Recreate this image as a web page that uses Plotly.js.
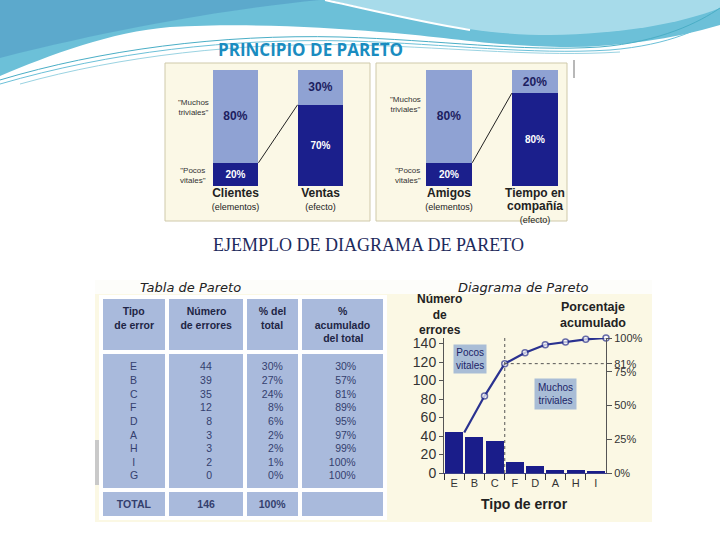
<!DOCTYPE html>
<html>
<head>
<meta charset="utf-8">
<script src="https://cdn.plot.ly/plotly-3.0.1.min.js"></script>
<style>html,body{margin:0;padding:0;background:#fff;}#chart{width:720px;height:540px;}</style>
</head>
<body>
<div id="chart"></div>
<script>
// ---------- DATA ----------
// Principio de Pareto (top)
const panel1Cats = ['Clientes', 'Ventas'];
const panel1Names = [['Clientes'], ['Ventas']];
const panel1Roles = ['(elementos)', '(efecto)'];
const panel1Vital = [20, 70];
const panel1Trivial = [80, 30];

const panel2Cats = ['Amigos', 'Tiempo en compañía'];
const panel2Names = [['Amigos'], ['Tiempo en', 'compañía']];
const panel2Roles = ['(elementos)', '(efecto)'];
const panel2Vital = [20, 80];
const panel2Trivial = [80, 20];

// Tabla de Pareto
const errorTypes = ['E', 'B', 'C', 'F', 'D', 'A', 'H', 'I', 'G'];
const errorCounts = [44, 39, 35, 12, 8, 3, 3, 2, 0];
const pctOfTotal = [30, 27, 24, 8, 6, 2, 2, 1, 0];
const pctCumulative = [30, 57, 81, 89, 95, 97, 99, 100, 100];
const totalErrors = 146;
const totalPct = 100;
const tableHeaders = [['Tipo', 'de error'], ['Número', 'de errores'], ['% del', 'total'], ['%', 'acumulado', 'del total']];

// Diagrama de Pareto (chart uses first 8 types)
const chartTypes = errorTypes.slice(0, 8);
const chartCounts = errorCounts.slice(0, 8);
const chartCum = pctCumulative.slice(0, 8);
const pctTicks = [0, 25, 50, 75, 81, 100];
const countTicks = [0, 20, 40, 60, 80, 100, 120, 140];
const vitalCutoff = 81;

// ---------- HELPERS ----------
const W = 720, H = 540;
const X = p => p / W;
const Y = p => 1 - p / H;
const P = s => s.replace(/(-?[\d.]+),(-?[\d.]+)/g, (m, a, b) => (a / W).toFixed(4) + ',' + (1 - b / H).toFixed(4));

const LIGHT = '#8fa2d3';
const DARK = '#1b1f8c';
const NAVY = '#1a1d8a';
const CELL = '#a9badc';
const FONT = 'Liberation Sans, Arial, sans-serif';

// per-line alignment inside a multi-line table cell (table aligns the block, not the lines)
const ctx = document.createElement('canvas').getContext('2d');
function measure(t, f) { ctx.font = f; return ctx.measureText(t).width; }
function alignLines(lines, f, mode) {
  let pc = '\u2009', pw = measure(pc, f);
  if (!(pw > 0.5)) { pc = '\u2002'; pw = measure(pc, f); }
  const ws = lines.map(l => measure(String(l), f));
  const mx = Math.max.apply(null, ws);
  return lines.map((l, i) => {
    const n = Math.max(0, Math.round((mx - ws[i]) / (mode === 'center' ? 2 : 1) / pw));
    return pc.repeat(n) + l;
  }).join('<br>');
}
const HF = 'bold 10.5px "Liberation Sans"';
const BF = '10.5px "Liberation Sans"';

// ---------- TRACES ----------
const traces = [];
function stackPair(cats, vital, trivial, xa, ya) {
  traces.push({type: 'bar', x: cats, y: vital, xaxis: xa, yaxis: ya, width: 0.54,
    marker: {color: DARK, line: {width: 0}}, text: vital.map(v => v + '%'), textposition: 'inside',
    insidetextanchor: 'middle', textfont: {color: '#ffffff', size: 10, family: FONT, weight: 'bold'}, hoverinfo: 'skip'});
  traces.push({type: 'bar', x: cats, y: trivial, xaxis: xa, yaxis: ya, width: 0.54,
    marker: {color: LIGHT, line: {width: 0}}, text: trivial.map(v => v + '%'), textposition: 'inside',
    insidetextanchor: 'middle', textfont: {color: '#1c2060', size: 12, family: FONT, weight: 'bold'}, hoverinfo: 'skip'});
}
stackPair(panel1Cats, panel1Vital, panel1Trivial, 'x', 'y');
stackPair(panel2Cats, panel2Vital, panel2Trivial, 'x2', 'y2');

// Pareto table
traces.push({type: 'table',
  domain: {x: [X(101), X(385)], y: [Y(522), Y(297)]},
  columnwidth: [64, 75, 53, 82],
  header: {values: tableHeaders.map(h => '<b>' + alignLines(h, HF, 'center') + '</b>'), height: 44,
    fill: {color: CELL}, line: {color: '#ffffff', width: 4}, align: 'center',
    font: {family: FONT, size: 10.5, color: '#1e2545'}},
  cells: {values: [
      [alignLines(errorTypes, BF, 'center'), '<b>TOTAL</b>'],
      [alignLines(errorCounts, BF, 'right'), '<b>' + totalErrors + '</b>'],
      [alignLines(pctOfTotal.map(v => v + '%'), BF, 'right'), '<b>' + totalPct + '%</b>'],
      [alignLines(pctCumulative.map(v => v + '%'), BF, 'right'), '']],
    height: 21, fill: {color: CELL}, line: {color: '#ffffff', width: 4}, align: 'center',
    font: {family: FONT, size: 10.5, color: '#34406e'}}
});

// Pareto chart bars
traces.push({type: 'bar', x: chartTypes, y: chartCounts, xaxis: 'x3', yaxis: 'y3',
  marker: {color: NAVY, line: {width: 0}}, hoverinfo: 'skip'});
// cumulative line (points at right edge of each category)
traces.push({type: 'scatter', mode: 'lines+markers', x: chartTypes.map((c, i) => i + 1), y: chartCum,
  xaxis: 'x4', yaxis: 'y4', line: {color: '#2a3290', width: 2.2},
  marker: {size: chartCum.map((v, i) => i === 0 ? 0 : 6), color: '#ffffff', line: {color: '#2a3290', width: 1.5}},
  hoverinfo: 'skip', cliponaxis: false});

// ---------- SHAPES ----------
const shapes = [
  // header wave
  {type: 'path', xref: 'paper', yref: 'paper', layer: 'below', line: {width: 0}, fillcolor: '#6cc0d8',
    path: P('M 0,0 L 720,0 L 720,25 C 670,40 610,48 560,47 C 480,45 440,36 380,32 C 320,27 250,23 170,27 C 110,32 50,55 0,76 Z')},
  {type: 'path', xref: 'paper', yref: 'paper', layer: 'below', line: {width: 0}, fillcolor: '#559fc8', opacity: 0.7,
    path: P('M 0,0 L 320,0 C 240,8 130,25 0,58 Z')},
  {type: 'path', xref: 'paper', yref: 'paper', layer: 'below', line: {width: 0}, fillcolor: '#a7dbea',
    path: P('M 330,0 L 720,0 L 720,8 C 680,24 620,34 550,35 C 480,35 420,22 330,0 Z')},
  {type: 'path', xref: 'paper', yref: 'paper', layer: 'below', line: {color: '#ffffff', width: 2},
    path: P('M 325,0 C 380,12 420,22 470,30')},
  {type: 'path', xref: 'paper', yref: 'paper', layer: 'below', line: {color: '#4aaec6', width: 1},
    path: P('M 0,80 C 100,50 220,34 340,37 C 440,40 520,52 600,47 C 660,42 700,22 720,8')},
  {type: 'path', xref: 'paper', yref: 'paper', layer: 'below', line: {color: '#6cc0d8', width: 1},
    path: P('M 0,84 C 110,52 230,38 350,41 C 450,44 530,55 610,50 C 670,45 705,28 720,14')},
  {type: 'path', xref: 'paper', yref: 'paper', layer: 'below', line: {color: '#9ad3e2', width: 1},
    path: P('M 20,84 C 120,56 240,42 360,45 C 460,48 540,57 620,52')},
  // top panel boxes
  {type: 'rect', xref: 'paper', yref: 'paper', layer: 'below', x0: X(165), x1: X(370), y0: Y(221), y1: Y(63),
    fillcolor: '#fbf8e6', line: {color: '#cfc9aa', width: 1}},
  {type: 'rect', xref: 'paper', yref: 'paper', layer: 'below', x0: X(376), x1: X(567), y0: Y(221), y1: Y(63),
    fillcolor: '#fbf8e6', line: {color: '#cfc9aa', width: 1}},
  {type: 'line', xref: 'paper', yref: 'paper', layer: 'below', x0: X(574), x1: X(574), y0: Y(60), y1: Y(78),
    line: {color: '#b8b8b8', width: 2}},
  // connectors
  {type: 'line', xref: 'x', yref: 'y', x0: 0.27, y0: panel1Vital[0], x1: 0.73, y1: panel1Vital[1], line: {color: '#222', width: 1}},
  {type: 'line', xref: 'x2', yref: 'y2', x0: 0.27, y0: panel2Vital[0], x1: 0.73, y1: panel2Vital[1], line: {color: '#222', width: 1}},
  // bottom picture background
  {type: 'rect', xref: 'paper', yref: 'paper', layer: 'below', x0: X(95), x1: X(652), y0: Y(522), y1: Y(280),
    fillcolor: '#fdfdfa', line: {width: 0}},
  {type: 'rect', xref: 'paper', yref: 'paper', layer: 'below', x0: X(95), x1: X(652), y0: Y(522), y1: Y(294),
    fillcolor: '#fbf8e4', line: {width: 0}},
  {type: 'rect', xref: 'paper', yref: 'paper', layer: 'below', x0: X(95), x1: X(99), y0: Y(485), y1: Y(440),
    fillcolor: '#c9c9c9', line: {width: 0}},
  // pareto guide lines
  {type: 'line', xref: 'x4', yref: 'y4', x0: 3, x1: 3, y0: 0, y1: 100, line: {color: '#555', width: 1, dash: 'dot'}},
  {type: 'line', xref: 'x4', yref: 'y4', x0: 3, x1: 8, y0: vitalCutoff, y1: vitalCutoff, line: {color: '#555', width: 1, dash: 'dot'}}
];

// ---------- ANNOTATIONS ----------
const ann = (x, y, text, opts) => Object.assign({xref: 'paper', yref: 'paper', x: X(x), y: Y(y), text: text,
  showarrow: false, xanchor: 'center', yanchor: 'middle'}, opts);
const small = {family: FONT, size: 8, color: '#333'};
const annotations = [
  ann(310, 50, 'PRINCIPIO DE PARETO', {font: {family: 'Liberation Sans Narrow, Open Sans, sans-serif', size: 17, color: '#1a8cc0', weight: 'bold'}}),
  ann(193, 107, '"Muchos<br>triviales"', {font: small}),
  ann(193, 175, '"Pocos<br>vitales"', {font: small}),
  ann(405, 105, '"Muchos<br>triviales"', {font: small}),
  ann(408, 175, '"Pocos<br>vitales"', {font: small}),
  ann(368, 245, 'EJEMPLO DE DIAGRAMA DE PARETO', {font: {family: 'Liberation Serif, DejaVu Serif, serif', size: 18, color: '#1d2a5c'}}),
  ann(190, 287, 'Tabla de Pareto', {font: {family: 'DejaVu Sans, sans-serif', size: 13, color: '#222', style: 'italic'}}),
  ann(523, 287, 'Diagrama de Pareto', {font: {family: 'DejaVu Sans, sans-serif', size: 13, color: '#222', style: 'italic'}}),
  ann(439, 314, '<b>Número<br>de<br>errores</b>', {font: {family: FONT, size: 12, color: '#222'}}),
  ann(593, 315, '<b>Porcentaje<br>acumulado</b>', {font: {family: FONT, size: 12.5, color: '#222'}}),
  ann(524, 504, '<b>Tipo de error</b>', {font: {family: FONT, size: 14, color: '#222'}}),
  ann(470, 359, 'Pocos<br>vitales', {font: {family: FONT, size: 10, color: '#1c2466'}, bgcolor: '#a9bdd6', borderpad: 2}),
  ann(555, 394, 'Muchos<br>triviales', {font: {family: FONT, size: 10, color: '#1c2466'}, bgcolor: '#a9bdd6', borderpad: 3})
];
// category labels of the top panels (bold name + role line)
function catLabels(names, roles) {
  return names.map((n, i) => n.map(s => '<span style="font-size:12px"><b>' + s + '</b></span>').join('<br>') +
    '<br><span style="font-size:9px">' + roles[i] + '</span>');
}

// ---------- LAYOUT ----------
const hidden = {showgrid: false, zeroline: false, showline: false, showticklabels: false, ticks: ''};
const layout = {
  width: W, height: H, margin: {l: 0, r: 0, t: 0, b: 0},
  paper_bgcolor: '#ffffff', plot_bgcolor: 'rgba(0,0,0,0)',
  showlegend: false, barmode: 'stack', bargap: 0.12,
  font: {family: FONT},
  xaxis: {domain: [X(193), X(363)], range: [-0.5, 1.5], type: 'category', showgrid: false, zeroline: false,
    showline: false, ticks: '', tickvals: panel1Cats, ticktext: catLabels(panel1Names, panel1Roles), tickfont: {size: 10, color: '#222'}},
  yaxis: Object.assign({domain: [Y(186), Y(70)], range: [0, 100], anchor: 'x'}, hidden),
  xaxis2: {domain: [X(406), X(578)], range: [-0.5, 1.5], type: 'category', anchor: 'y2', showgrid: false, zeroline: false,
    showline: false, ticks: '', tickvals: panel2Cats, ticktext: catLabels(panel2Names, panel2Roles), tickfont: {size: 10, color: '#222'}},
  yaxis2: Object.assign({domain: [Y(186), Y(70)], range: [0, 100], anchor: 'x2'}, hidden),
  xaxis3: {domain: [X(444), X(606)], range: [-0.5, 7.5], type: 'category', anchor: 'y3', showgrid: false, zeroline: false,
    showline: true, linecolor: '#3a3f8a', linewidth: 1, ticks: 'outside', tickson: 'boundaries', ticklen: 6, tickcolor: '#333',
    tickfont: {size: 11, color: '#333', family: FONT}},
  yaxis3: {domain: [Y(473), Y(338)], range: [0, 146], anchor: 'x3', showgrid: false, zeroline: false,
    showline: true, linecolor: '#555', linewidth: 1, ticks: 'outside', ticklen: 4, tickcolor: '#555',
    tickvals: countTicks, tickfont: {size: 14, color: '#333', family: FONT}},
  xaxis4: Object.assign({domain: [X(444), X(606)], range: [0, 8], overlaying: 'x3', anchor: 'y4'}, hidden),
  yaxis4: {domain: [Y(473), Y(338)], range: [0, 100], overlaying: 'y3', side: 'right', anchor: 'x4', showgrid: false, zeroline: false,
    showline: true, linecolor: '#555', linewidth: 1, ticks: 'outside', ticklen: 5, tickcolor: '#555',
    tickvals: pctTicks, ticktext: pctTicks.map(v => v + '%'), tickfont: {size: 11, color: '#333', family: FONT}},
  shapes: shapes,
  annotations: annotations
};

Plotly.newPlot('chart', traces, layout, {displayModeBar: false, staticPlot: true});
</script>
</body>
</html>
